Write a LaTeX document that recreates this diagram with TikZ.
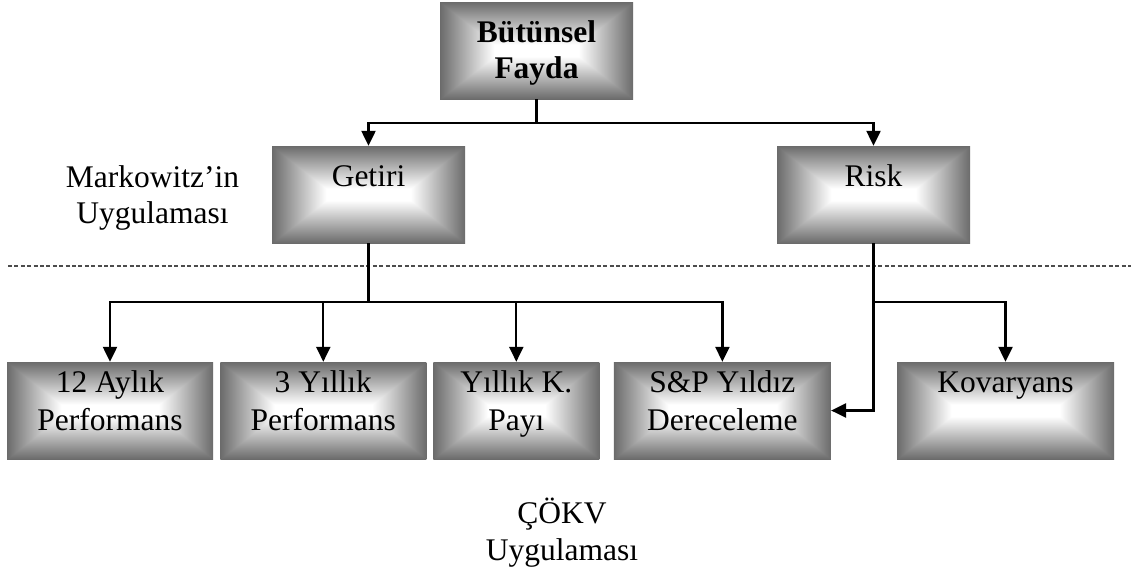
\documentclass[tikz,border=0pt]{standalone}
\usepackage{fontspec}
\setmainfont{Liberation Serif}
\usetikzlibrary{arrows.meta}

% Grey bevel fill: dark along the border, light towards the middle.
% #2 scales the horizontal falloff to the width of the box.
\newcommand\declareglow[2]{%
  \pgfdeclarefunctionalshading{#1}{\pgfpointorigin}{\pgfpoint{100bp}{100bp}}{}{
    50 sub abs 25 exch sub 0.055 mul
    exch 50 sub abs 25 exch sub #2 mul
    2 copy sub abs 3 1 roll add exch sub 2 div
    dup abs add 2 div
    0.48 mul 0.42 add
    dup dup
  }%
}
\declareglow{glowA}{0.0858}  % 193 wide
\declareglow{glowB}{0.0916}  % 206 wide
\declareglow{glowC}{0.0738}  % 166 wide
\declareglow{glowD}{0.0964}  % 217 wide

\begin{document}
\begin{tikzpicture}[x=1pt,y=-1pt,
  box/.style={shade, draw=none, inner sep=0pt, minimum height=97pt},
  boxA/.style={box, shading=glowA, minimum width=193pt},
  boxB/.style={box, shading=glowB, minimum width=206pt},
  boxC/.style={box, shading=glowC, minimum width=166pt},
  boxD/.style={box, shading=glowD, minimum width=217pt},
  txt/.style={anchor=north, inner sep=0pt, align=center,
              font=\fontsize{31.5}{37}\selectfont},
  link/.style={line width=2.3pt},
  arr/.style={link, -{Triangle[length=15pt,width=14pt]}},
  sep/.style={dash pattern=on 4pt off 2.4pt, line width=1.3pt, draw=black!70}]

\useasboundingbox (0,0) rectangle (1131,571);

% separator between the two levels
\coordinate (d1) at (8,266);
\coordinate (d2) at (1131,266);
\draw[sep] (d1) -- (d2);

% upper level
\node[boxA] (top) at (536.5,50.5) {};
\node[txt, font=\fontsize{31.5}{36}\selectfont\bfseries] (toptxt) at (536.5,17.4) {\strut Bütünsel\\Fayda};

\node[boxA] (getiri) at (368.5,194.5) {};
\node[txt] (getiritxt) at (368.5,160.6) {\strut Getiri};

\node[boxA] (risk) at (873.5,194.5) {};
\node[txt] (risktxt) at (873.5,160.6) {\strut Risk};

\node[txt, font=\fontsize{31.5}{36}\selectfont] (mark) at (152.5,162) {\strut Markowitz’in\\Uygulaması};

% lower level
\node[boxB] (b1) at (110,410.5) {};
\node[txt, font=\fontsize{31.5}{37.7}\selectfont] (b1txt) at (110,366.4) {\strut 12 Aylık\\Performans};

\node[boxB] (b2) at (323.3,410.5) {};
\node[txt, font=\fontsize{31.5}{37.7}\selectfont] (b2txt) at (323.3,366.4) {\strut 3 Yıllık\\Performans};

\node[boxC] (b3) at (516.3,410.5) {};
\node[txt, font=\fontsize{31.5}{37.7}\selectfont] (b3txt) at (516.3,366.4) {\strut Yıllık K.\\Payı};

\node[boxD] (b4) at (722.4,410.5) {};
\node[txt, font=\fontsize{31.5}{37.7}\selectfont] (b4txt) at (722.4,366.4) {\strut S\&P Yıldız\\Dereceleme};

\node[boxD] (b5) at (1005.5,410.5) {};
\node[txt, font=\fontsize{31.5}{37.7}\selectfont] (b5txt) at (1005.5,366.4) {\strut Kovaryans};

\node[txt] (cokv) at (562,497.1) {\strut ÇÖKV\\Uygulaması};

% connectors
\coordinate (j1) at (536.5,123);
\draw[link] (top.south) -- (j1);
\draw[arr] (j1) -| (getiri.north);
\draw[arr] (j1) -| (risk.north);

\coordinate (j2) at (368.5,302.3);
\draw[link] (getiri.south) -- (j2);
\draw[arr] (j2) -| (b1.north);
\draw[arr] (j2) -| (b2.north);
\draw[arr] (j2) -| (b3.north);
\draw[arr] (j2) -| (b4.north);

\coordinate (j3) at (873.5,302.3);
\draw[arr] (risk.south) |- (b4.east);
\draw[arr] (j3) -| (b5.north);

\end{tikzpicture}
\end{document}
